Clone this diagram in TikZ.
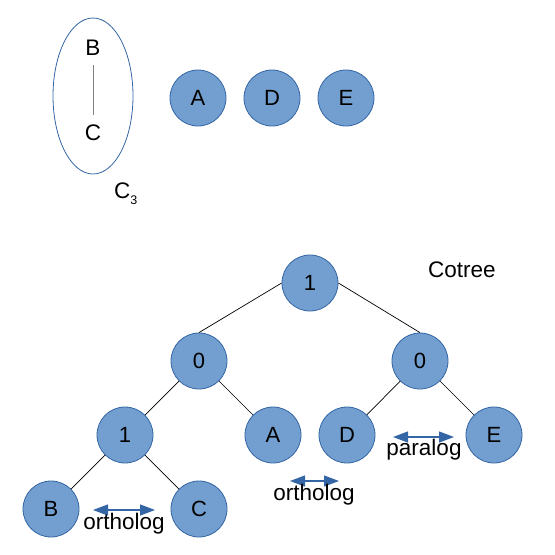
\documentclass[tikz,border=0pt]{standalone}
\usepackage{fontspec}
\setmainfont{Liberation Sans}
\usetikzlibrary{arrows.meta,shapes.geometric}
\definecolor{nodefill}{HTML}{729FCF}
\definecolor{nodeline}{HTML}{3465A4}
\definecolor{greyline}{HTML}{808080}
\tikzset{
  vert/.style={circle,draw=nodeline,fill=nodefill,line width=0.8pt,minimum size=56pt,inner sep=0pt,font=\fontsize{22}{22}\selectfont},
  lbl/.style={inner sep=0pt,font=\fontsize{22.5}{22.5}\selectfont},
  edge/.style={draw=black,line width=0.7pt},
  relarrow/.style={draw=nodeline,line width=1.2pt,{Triangle[length=15pt,width=11pt]}-{Triangle[length=15pt,width=11pt]},shorten <=0pt,shorten >=0pt}
}
\begin{document}
\begin{tikzpicture}[x=1pt,y=-1pt]
\useasboundingbox (0,0) rectangle (555,555);
% top part
\node[draw=nodeline,line width=0.8pt,ellipse,minimum width=80pt,minimum height=156pt,inner sep=0pt] (ell) at (93,96) {};
\node[lbl] (tB) at (93,48) {B};
\node[lbl] (tC) at (93,133) {C};
\coordinate (bcTop) at (93,65);
\coordinate (bcBot) at (93,115);
\draw[greyline,line width=1pt] (bcTop) -- (bcBot);
\node[lbl,anchor=base west] (c3) at (114,198) {C\raisebox{-6pt}{\fontsize{12.5}{12.5}\selectfont 3}};
\node[vert] (a1) at (198,98) {A};
\node[vert] (d1) at (272,98) {D};
\node[vert] (e1) at (346,98) {E};
% cotree
\node[lbl] (cot) at (462,270) {Cotree};
\node[vert] (r) at (310,283) {1};
\node[vert] (l0) at (199,361) {0};
\node[vert] (r0) at (420,361) {0};
\node[vert] (l1) at (125,435) {1};
\node[vert] (a2) at (273,435) {A};
\node[vert] (d2) at (347,435) {D};
\node[vert] (e2) at (494,435) {E};
\node[vert] (b2) at (51,509) {B};
\node[vert] (c2) at (199,509) {C};
\draw[edge] (r.west) -- (l0.north);
\draw[edge] (r.east) -- (r0.north);
\draw[edge] (l0) -- (l1);
\draw[edge] (l0) -- (a2);
\draw[edge] (r0) -- (d2);
\draw[edge] (r0) -- (e2);
\draw[edge] (l1) -- (b2);
\draw[edge] (l1) -- (c2);
% relation arrows
\coordinate (o1a) at (93,510);
\coordinate (o1b) at (155,510);
\draw[relarrow] (o1a) -- (o1b);
\node[lbl] (o1t) at (124,524) {ortholog};
\coordinate (o2a) at (290,481);
\coordinate (o2b) at (339,481);
\draw[relarrow] (o2a) -- (o2b);
\node[lbl] (o2t) at (314,495) {ortholog};
\coordinate (pa) at (393,437);
\coordinate (pb) at (454,437);
\draw[relarrow] (pa) -- (pb);
\node[lbl] (pt) at (424,450) {paralog};
\end{tikzpicture}
\end{document}
